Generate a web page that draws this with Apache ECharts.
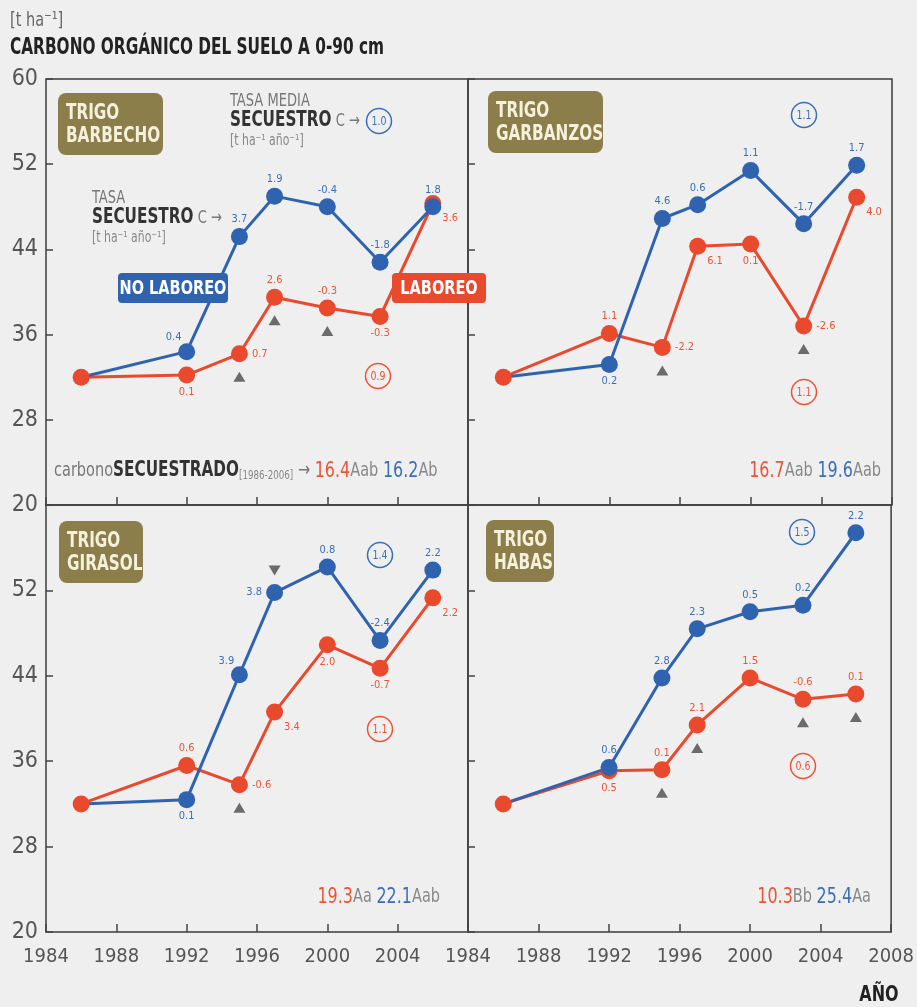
<!DOCTYPE html>
<html><head><meta charset="utf-8">
<script src="https://cdn.jsdelivr.net/npm/echarts@6/dist/echarts.min.js"></script>
<style>html,body{margin:0;padding:0;background:#efefef}#c{width:917px;height:1007px}</style>
</head><body><div id="c"></div>
<script>
// ---------- DATA ----------
const YEARS = [1986, 1992, 1995, 1997, 2000, 2003, 2006];
const Y_TICKS = [20, 28, 36, 44, 52, 60];
const Y_TICKS_BOTTOM = [20, 28, 36, 44, 52];
const X_TICKS = [1984, 1988, 1992, 1996, 2000, 2004, 2008];
const X_TICKS_LEFT = [1984, 1988, 1992, 1996, 2000, 2004];

const PANEL_NAMES = ['TRIGO\nBARBECHO', 'TRIGO\nGARBANZOS', 'TRIGO\nGIRASOL', 'TRIGO\nHABAS'];

// No laboreo (blue) / Laboreo (red) soil organic carbon [t ha-1]
const BARBECHO_NL = [32.0, 34.4, 45.2, 49.0, 48.0, 42.8, 48.0];
const BARBECHO_L  = [32.0, 32.2, 34.2, 39.5, 38.5, 37.7, 48.3];
const GARBANZOS_NL = [32.0, 33.2, 46.9, 48.2, 51.4, 46.4, 51.9];
const GARBANZOS_L  = [32.0, 36.1, 34.8, 44.3, 44.5, 36.8, 48.9];
const GIRASOL_NL = [32.0, 32.4, 44.1, 51.8, 54.2, 47.3, 53.9];
const GIRASOL_L  = [32.0, 35.6, 33.8, 40.6, 46.9, 44.7, 51.3];
const HABAS_NL = [32.0, 35.4, 43.8, 48.4, 50.0, 50.6, 57.4];
const HABAS_L  = [32.0, 35.1, 35.2, 39.4, 43.8, 41.8, 42.3];

// Rates of C sequestration [t ha-1 año-1]
const BARBECHO_NL_RATE = ['', '0.4', '3.7', '1.9', '-0.4', '-1.8', '1.8'];
const BARBECHO_L_RATE  = ['', '0.1', '0.7', '2.6', '-0.3', '-0.3', '3.6'];
const GARBANZOS_NL_RATE = ['', '0.2', '4.6', '0.6', '1.1', '-1.7', '1.7'];
const GARBANZOS_L_RATE  = ['', '1.1', '-2.2', '6.1', '0.1', '-2.6', '4.0'];
const GIRASOL_NL_RATE = ['', '0.1', '3.9', '3.8', '0.8', '-2.4', '2.2'];
const GIRASOL_L_RATE  = ['', '0.6', '-0.6', '3.4', '2.0', '-0.7', '2.2'];
const HABAS_NL_RATE = ['', '0.6', '2.8', '2.3', '0.5', '0.2', '2.2'];
const HABAS_L_RATE  = ['', '0.5', '0.1', '2.1', '1.5', '-0.6', '0.1'];

// Mean rates (circled)
const MEAN_RATE_NL = ['1.0', '1.1', '1.4', '1.5'];
const MEAN_RATE_L  = ['0.9', '1.1', '1.1', '0.6'];

// Carbon sequestered 1986-2006 with letters
const SEQ_L  = ['16.4', '16.7', '19.3', '10.3'];
const SEQ_L_LET  = ['Aab', 'Aab', 'Aa', 'Bb'];
const SEQ_NL = ['16.2', '19.6', '22.1', '25.4'];
const SEQ_NL_LET = ['Ab', 'Aab', 'Aab', 'Aa'];

// Significance triangles (years)
const TRI_UP_L = [[1995, 1997, 2000], [1995, 2003], [1995], [1995, 1997, 2003, 2006]];
const TRI_DOWN_NL = [[], [], [1997], []];

// ---------- FONT DETECTION ----------
const _ctx = document.createElement('canvas').getContext('2d');
function fw(f, s) { _ctx.font = f; return _ctx.measureText(s || 'SECUESTRO 1984 abcdefg').width; }
let FAM = null, STRETCH = '';
const NARROW = [['Liberation Sans Narrow', 'Liberation Sans'], ['DejaVu Sans Condensed', 'DejaVu Sans'], ['Arial Narrow', 'Liberation Sans']];
for (const [n, r] of NARROW) {
  if (fw('20px "' + n + '", "' + r + '"') < fw('20px "' + r + '"') * 0.92) { FAM = '"' + n + '"'; break; }
}
if (!FAM) {
  for (const fam of ['DejaVu Sans', 'Liberation Sans', 'Open Sans', 'Noto Sans', 'Roboto', 'Inter']) {
    if (fw('condensed 20px "' + fam + '"') < fw('20px "' + fam + '"') * 0.92) { FAM = '"' + fam + '"'; STRETCH = 'condensed'; break; }
  }
}
if (!FAM) FAM = '"Roboto"';
const FONT = FAM + ', sans-serif';
const PFX = STRETCH ? STRETCH + ' ' : '';
const TITLE = 'CARBONO ORGÁNICO DEL SUELO A 0-90 cm';
const SCALE = Math.min(1.05, 372 / fw(PFX + 'bold 21px ' + FONT, TITLE));
const TITLE_SCALE = Math.min(1.05, 374 / fw(PFX + 'bold 23px ' + FONT, TITLE));
function F(size, bold) {
  return {fontFamily: FONT, fontSize: size, fontWeight: bold ? 'bold' : 'normal', fontStyle: STRETCH || 'normal'};
}
function sizeFor(str, target, maxS, minS) {
  for (let s = maxS; s > minS; s--) if (fw(PFX + s + 'px ' + FONT, str) <= target) return s;
  return minS;
}
const XL = sizeFor('1984', 48, 24, 16);
const YL = sizeFor('60', 27, 26, 18);
const LBL = sizeFor('-0.4', 21, 13, 11);

// ---------- LAYOUT / STYLE ----------
const POS_NL = [
  ['', 'tl', 't', 't', 't', 't', 't'],
  ['', 'b', 't', 't', 't', 't', 't'],
  ['', 'b', 'tl', 'l', 't', 't', 't'],
  ['', 't', 't', 't', 't', 't', 't']
];
const POS_L = [
  ['', 'b', 'r', 't', 't', 'b', 'br'],
  ['', 't', 'r', 'br', 'b', 'r', 'br'],
  ['', 't', 'r', 'br', 'b', 'b', 'br'],
  ['', 'b', 't', 't', 't', 't', 't']
];

const NL_DATA = [BARBECHO_NL, GARBANZOS_NL, GIRASOL_NL, HABAS_NL];
const L_DATA = [BARBECHO_L, GARBANZOS_L, GIRASOL_L, HABAS_L];
const NL_RATE = [BARBECHO_NL_RATE, GARBANZOS_NL_RATE, GIRASOL_NL_RATE, HABAS_NL_RATE];
const L_RATE = [BARBECHO_L_RATE, GARBANZOS_L_RATE, GIRASOL_L_RATE, HABAS_L_RATE];

const BLUE = '#2f63b0', RED = '#e9492d';
const BLUE_T = '#3a6fb8', RED_T = '#ec5435';
const OLIVE = '#8b7e4b';
const GRAY = '#555';

const GRIDS = [
  {left: 46, top: 79, width: 422, height: 426},
  {left: 468, top: 79, width: 424, height: 426},
  {left: 46, top: 505, width: 422, height: 427},
  {left: 468, top: 505, width: 424, height: 427}
];

function labelFor(pos, color) {
  const base = Object.assign({show: true, color: color}, F(LBL));
  switch (pos) {
    case 't': return Object.assign(base, {position: 'top', distance: 3});
    case 'b': return Object.assign(base, {position: 'bottom', distance: 3});
    case 'r': return Object.assign(base, {position: 'right', distance: 4});
    case 'l': return Object.assign(base, {position: 'left', distance: 4});
    case 'tl': return Object.assign(base, {position: 'top', distance: 2, offset: [-13, 2]});
    case 'br': return Object.assign(base, {position: 'right', distance: 1, offset: [0, 15]});
  }
  return {show: false};
}

const grid = [], xAxis = [], yAxis = [], series = [];
for (let i = 0; i < 4; i++) {
  grid.push(Object.assign({show: true, borderColor: '#3c3c3c', borderWidth: 1.5, backgroundColor: 'transparent'}, GRIDS[i]));
  const bottom = i >= 2, left = (i % 2 === 0);
  xAxis.push({
    type: 'value', gridIndex: i, min: 1984, max: 2008, interval: 4,
    axisLine: {show: false}, splitLine: {show: false},
    axisTick: {show: true, inside: true, length: 8, lineStyle: {color: '#444', width: 1.5}},
    axisLabel: Object.assign({show: bottom, color: GRAY, margin: 15,
      customValues: left ? X_TICKS_LEFT : X_TICKS, formatter: v => String(v)}, F(XL))
  });
  yAxis.push({
    type: 'value', gridIndex: i, min: 20, max: 60,
    axisLine: {show: false}, splitLine: {show: false},
    axisTick: {show: true, inside: true, length: 7, lineStyle: {color: '#444', width: 1.5}, customValues: Y_TICKS},
    axisLabel: Object.assign({show: left, color: GRAY, margin: 8,
      customValues: bottom ? Y_TICKS_BOTTOM : Y_TICKS, formatter: v => String(v)}, F(YL))
  });
  const mk = (vals, rates, pos, color, tcolor, name, hideFirst) => ({
    type: 'line', name: name, xAxisIndex: i, yAxisIndex: i,
    symbol: 'circle', symbolSize: 17,
    lineStyle: {color: color, width: 3}, itemStyle: {color: color},
    animation: false,
    data: vals.map((v, k) => {
      const d = {value: [YEARS[k], v], label: labelFor(pos[k], tcolor)};
      if (k === 0) d.label = {show: false};
      if (k === 0 && hideFirst) d.symbolSize = 0;
      return d;
    }),
    label: {formatter: (p) => rates[p.dataIndex]}
  });
  series.push(mk(L_DATA[i], L_RATE[i], POS_L[i], RED, RED_T, 'LABOREO', false));
  series.push(mk(NL_DATA[i], NL_RATE[i], POS_NL[i], BLUE, BLUE_T, 'NO LABOREO', true));
  series.push({
    type: 'scatter', xAxisIndex: i, yAxisIndex: i, symbol: 'triangle', symbolSize: [12, 10],
    symbolOffset: [0, 23], itemStyle: {color: '#4a4a4a'}, animation: false, z: 3,
    data: TRI_UP_L[i].map(y => [y, L_DATA[i][YEARS.indexOf(y)]])
  });
  series.push({
    type: 'scatter', xAxisIndex: i, yAxisIndex: i, symbol: 'triangle', symbolRotate: 180, symbolSize: [12, 10],
    symbolOffset: [0, -22], itemStyle: {color: '#4a4a4a'}, animation: false, z: 3,
    data: TRI_DOWN_NL[i].map(y => [y, NL_DATA[i][YEARS.indexOf(y)]])
  });
}

// ---------- ANNOTATIONS ----------
const graphic = [];
function txt(x, y, text, opts, size, bold, sc) {
  const align = (opts && opts.textAlign) || 'left';
  graphic.push({type: 'text', x: x, y: y, z: 10, silent: true, scaleX: sc || SCALE, originX: 0, originY: 0,
    style: Object.assign({text: text, fill: GRAY, textAlign: align, textVerticalAlign: 'middle'}, F(size || 14, bold), opts || {})});
}
function rect(x, y, w, h, r, fill) {
  graphic.push({type: 'rect', z: 9, silent: true, shape: {x: x, y: y, width: w, height: h, r: r}, style: {fill: fill}});
}
function circ(cx, cy, text, color) {
  graphic.push({type: 'circle', z: 9, silent: true, shape: {cx: cx, cy: cy, r: 12.5}, style: {fill: 'none', stroke: color, lineWidth: 1.5}});
  txt(cx, cy + 1, text, {fill: color, textAlign: 'center'}, 13);
}
function R(size, bold, fill, extra) { return Object.assign(F(size, bold), {fill: fill}, extra || {}); }

// title
txt(10, 21, '[t ha⁻¹]', {fill: '#666'}, 20);
txt(10, 48, TITLE, {fill: '#222'}, 23, true, TITLE_SCALE);
txt(879, 995, 'AÑO', {fill: '#222', textAlign: 'center'}, 22, true);

// panel name boxes
const BOXES = [[58, 93, 105, 62], [488, 91, 115, 62], [59, 521, 84, 62], [486, 520, 68, 62]];
BOXES.forEach((b, i) => {
  rect(b[0], b[1], b[2], b[3], 8, OLIVE);
  txt(b[0] + 8, b[1] + b[3] / 2 + 1, PANEL_NAMES[i], {fill: '#f6f1dc', lineHeight: 23}, 21, true);
});

// legend boxes
rect(118, 273, 110, 30, 4, BLUE);
txt(173, 289, 'NO LABOREO', {fill: '#fff', textAlign: 'center'}, 20, true);
rect(392, 273, 94, 30, 4, RED);
txt(439, 289, 'LABOREO', {fill: '#fff', textAlign: 'center'}, 20, true);

// tasa annotations
const RICH_TASA = {
  g: R(18, false, '#777', {lineHeight: 20}),
  b: R(21, true, '#333', {lineHeight: 20}),
  s: R(15, false, '#888', {lineHeight: 20})
};
txt(230, 121, '{g|TASA MEDIA}\n{b|SECUESTRO}{g| C →}\n{s|[t ha⁻¹ año⁻¹]}', {rich: RICH_TASA});
txt(92, 218, '{g|TASA}\n{b|SECUESTRO}{g| C →}\n{s|[t ha⁻¹ año⁻¹]}', {rich: RICH_TASA});

// circled mean rates
const CIRC_NL = [[379, 121], [804, 115], [380, 555], [802, 532]];
const CIRC_L = [[378, 376], [804, 392], [380, 729], [803, 766]];
for (let i = 0; i < 4; i++) {
  circ(CIRC_NL[i][0], CIRC_NL[i][1], MEAN_RATE_NL[i], BLUE_T);
  circ(CIRC_L[i][0], CIRC_L[i][1], MEAN_RATE_L[i], RED_T);
}

// sequestered carbon texts
const RICH_SEQ = {
  c: R(20, false, '#777'),
  k: R(21, true, '#333'),
  y: R(12, false, '#888', {padding: [10, 0, 0, 0]}),
  r: R(22, false, RED_T),
  bl: R(22, false, BLUE_T),
  l: R(20, false, '#888')
};
const SEQ_POS = [[54, 471], [881, 471], [440, 897], [871, 897]];
for (let i = 0; i < 4; i++) {
  const core = '{r|' + SEQ_L[i] + '}{l|' + SEQ_L_LET[i] + ' }{bl|' + SEQ_NL[i] + '}{l|' + SEQ_NL_LET[i] + '}';
  if (i === 0) {
    txt(SEQ_POS[i][0], SEQ_POS[i][1], '{c|carbono}{k|SECUESTRADO}{y|[1986-2006]}{c| → }' + core, {rich: RICH_SEQ});
  } else {
    graphic.push({type: 'text', x: SEQ_POS[i][0], y: SEQ_POS[i][1], z: 10, silent: true, scaleX: SCALE,
      style: {text: core, rich: RICH_SEQ, textAlign: 'right', textVerticalAlign: 'middle'}});
  }
}

const chart = echarts.init(document.getElementById('c'), null, {renderer: 'canvas'});
chart.setOption({
  backgroundColor: '#efefef',
  animation: false,
  textStyle: F(12),
  grid: grid, xAxis: xAxis, yAxis: yAxis, series: series, graphic: graphic
});
</script></body></html>
